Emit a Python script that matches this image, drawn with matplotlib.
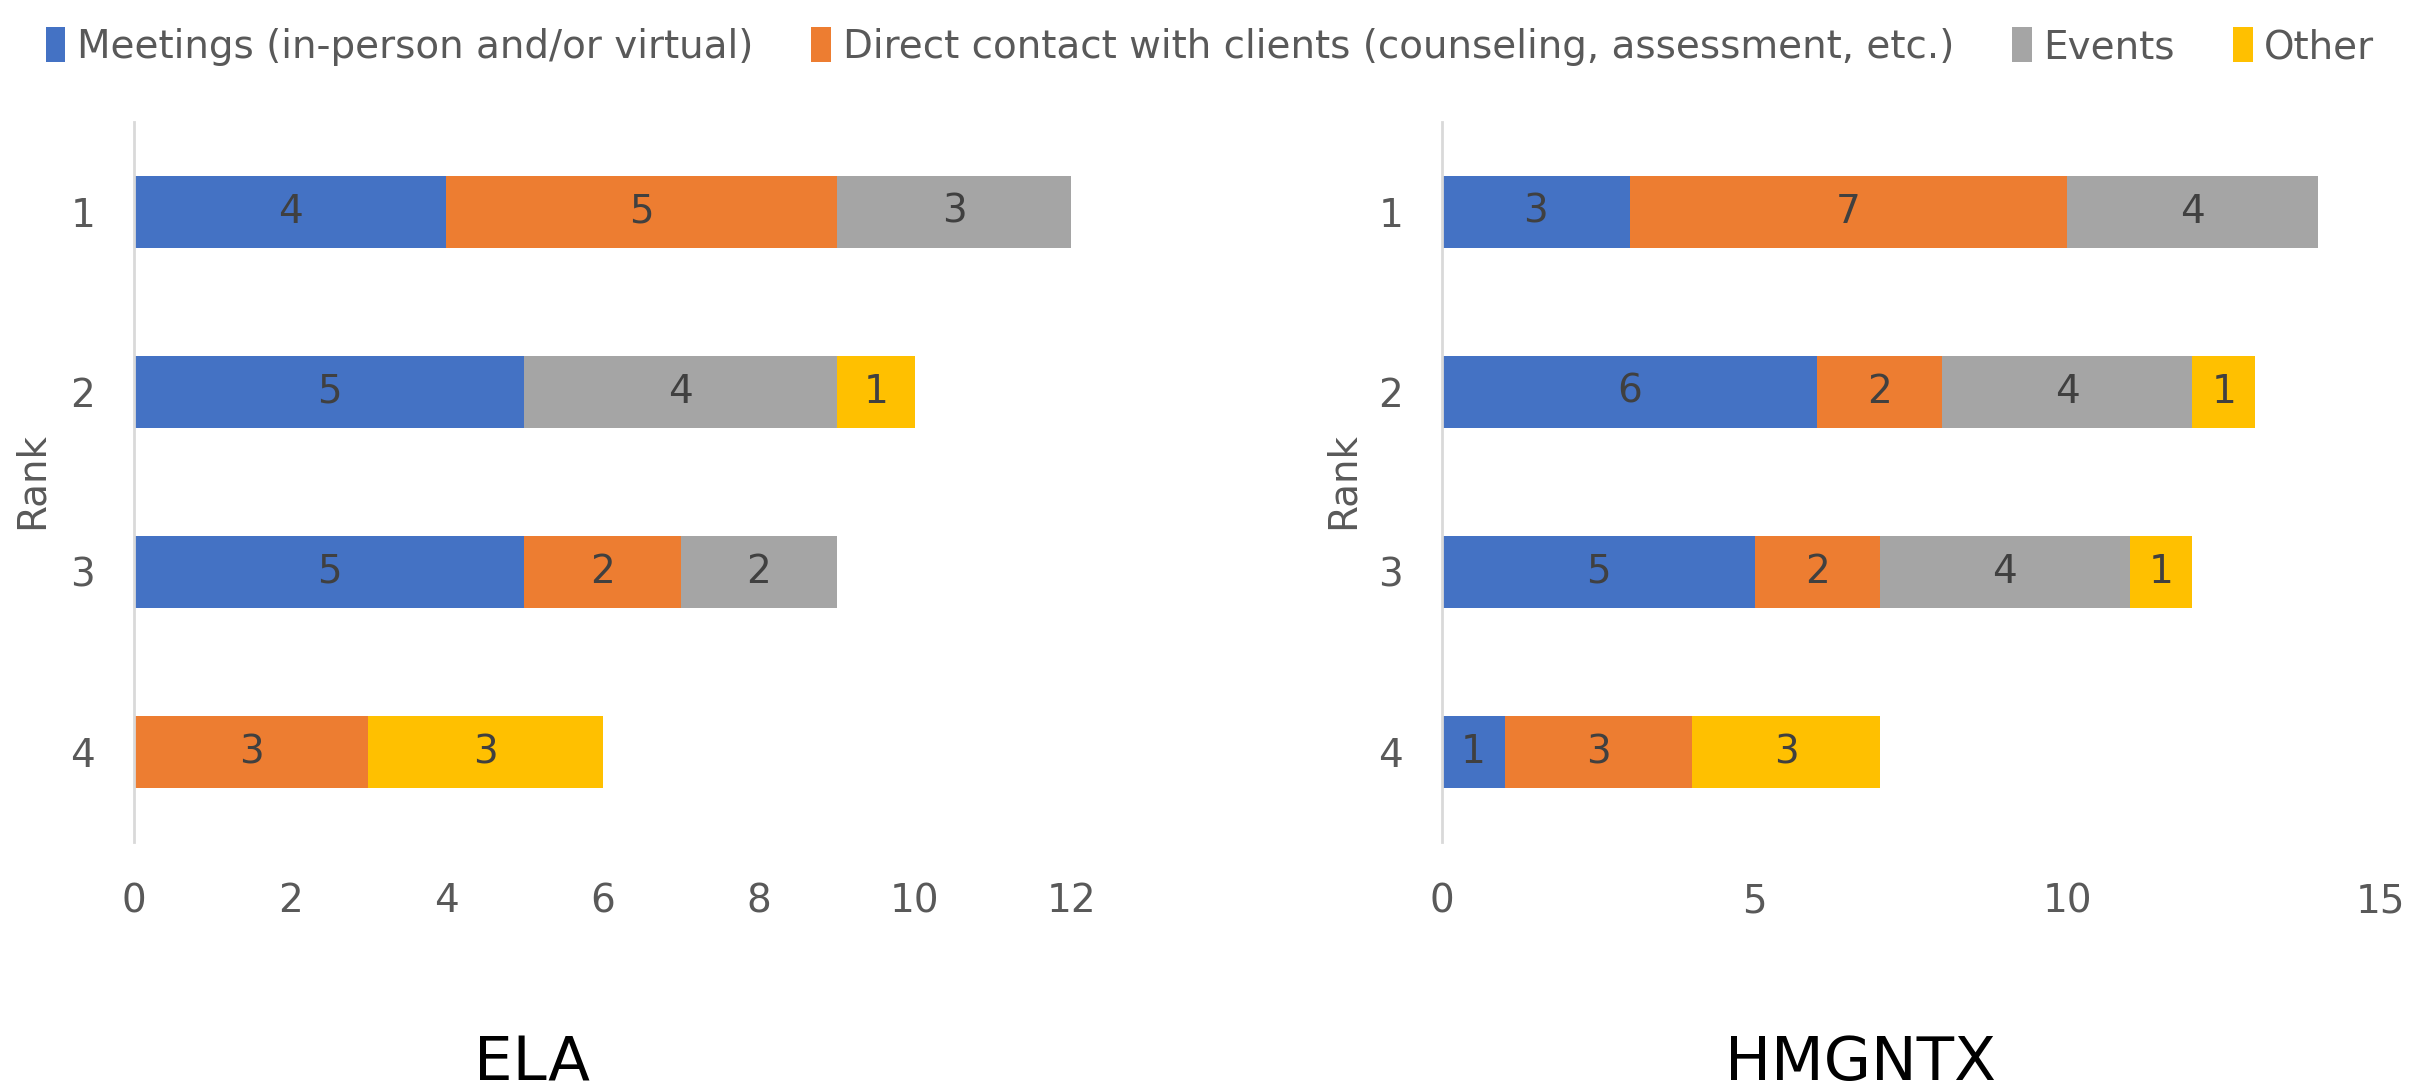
"""Stacked horizontal bars: activity type by rank, ELA vs HMGNTX."""

import matplotlib

matplotlib.use("Agg")
import matplotlib.pyplot as plt
import numpy as np

ranks = ["1", "2", "3", "4"]
series = [
    "Meetings (in-person and/or virtual)",
    "Direct contact with clients (counseling, assessment, etc.)",
    "Events",
    "Other",
]
colors = ["#4472C4", "#ED7D31", "#A5A5A5", "#FFC000"]

ela_meetings = [4, 5, 5, 0]
ela_direct = [5, 0, 2, 3]
ela_events = [3, 4, 2, 0]
ela_other = [0, 1, 0, 3]

hmg_meetings = [3, 6, 5, 1]
hmg_direct = [7, 2, 2, 3]
hmg_events = [4, 4, 4, 0]
hmg_other = [0, 1, 1, 3]

plt.rcParams["font.family"] = ["DejaVu Sans"]

fig = plt.figure(figsize=(24.2, 10.89), dpi=100)
ax_l = fig.add_axes([0.0554, 0.2268, 0.3872, 0.6612])
ax_r = fig.add_axes([0.5959, 0.2268, 0.3876, 0.6612])


def draw(ax, data, xmax, step):
    y = np.arange(len(ranks))
    left = np.zeros(len(ranks))
    handles = []
    for name, vals, col in zip(series, data, colors):
        vals = np.asarray(vals, dtype=float)
        bars = ax.barh(y, vals, left=left, height=0.395, color=col, label=name)
        labels = [str(int(v)) if v > 0 else "" for v in vals]
        ax.bar_label(bars, labels=labels, label_type="center",
                     fontsize=28, color="#404040")
        left += vals
        handles.append(bars)
    ax.set_yticks(y)
    ax.set_yticklabels(ranks)
    ax.set_ylim(len(ranks) - 0.5, -0.5)
    ax.set_xlim(0, xmax)
    ax.set_xticks(np.arange(0, xmax + 1, step))
    for s in ("top", "right", "bottom"):
        ax.spines[s].set_visible(False)
    ax.spines["left"].set_color("#D9D9D9")
    ax.spines["left"].set_linewidth(2)
    ax.tick_params(axis="both", length=0, labelsize=28, colors="#595959")
    ax.tick_params(axis="x", pad=29)
    ax.tick_params(axis="y", pad=28)
    return handles


handles = draw(ax_l, [ela_meetings, ela_direct, ela_events, ela_other], 12, 2)
draw(ax_r, [hmg_meetings, hmg_direct, hmg_events, hmg_other], 15, 5)

fig.text(0.0132, 0.559, "Rank", rotation=90, ha="center", va="center",
         fontsize=28, color="#595959")
fig.text(0.555, 0.559, "Rank", rotation=90, ha="center", va="center",
         fontsize=28, color="#595959")

fig.text(0.22, 0.008, "ELA", ha="center", va="baseline", fontsize=44, color="black")
fig.text(0.7686, 0.008, "HMGNTX", ha="center", va="baseline", fontsize=44, color="black")

fig.legend(handles=handles, loc="center", bbox_to_anchor=(0.5, 0.957), ncol=4,
           frameon=False, fontsize=28, labelcolor="#595959",
           handlelength=0.5, handleheight=1.0, handletextpad=0.3,
           columnspacing=1.5)

fig.savefig("out.png", dpi=100)
